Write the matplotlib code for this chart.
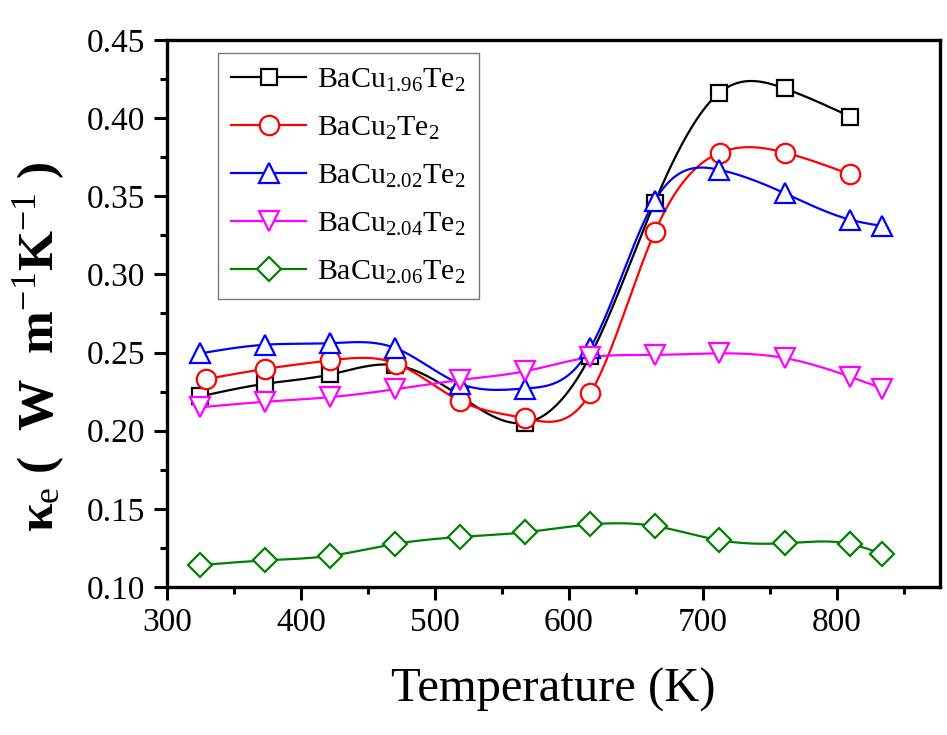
import numpy as np
import matplotlib
matplotlib.use("Agg")
import matplotlib.pyplot as plt
from matplotlib.ticker import MultipleLocator, FormatStrFormatter

plt.rcParams['font.family'] = ['Liberation Serif', 'DejaVu Serif']
plt.rcParams['mathtext.fontset'] = 'custom'
plt.rcParams['mathtext.rm'] = 'Liberation Serif'
plt.rcParams['mathtext.it'] = 'Liberation Serif:italic'
plt.rcParams['mathtext.bf'] = 'Liberation Serif:bold'

# ---- data ----
T_all = [325, 373, 422, 470, 519, 567, 616, 664, 712, 761, 810, 834]
T_red = [329, 373, 422, 471, 519, 567, 616, 664, 713, 761, 810]

k_196 = [0.222, 0.230, 0.236, 0.242, 0.222, 0.205, 0.248, 0.346, 0.416, 0.419, 0.401]
k_200 = [0.233, 0.2395, 0.245, 0.243, 0.219, 0.208, 0.224, 0.327, 0.378, 0.378, 0.364]
k_202 = [0.2495, 0.255, 0.256, 0.253, 0.230, 0.227, 0.253, 0.347, 0.367, 0.352, 0.335, 0.331]
k_204 = [0.215, 0.2185, 0.2215, 0.2265, 0.2325, 0.238, 0.247, 0.2485, 0.2495, 0.2465, 0.2345, 0.227]
k_206 = [0.114, 0.117, 0.120, 0.1275, 0.132, 0.135, 0.140, 0.139, 0.130, 0.128, 0.1275, 0.121]

labels = [r'BaCu$_{1.96}$Te$_{2}$', r'BaCu$_{2}$Te$_{2}$', r'BaCu$_{2.02}$Te$_{2}$',
          r'BaCu$_{2.04}$Te$_{2}$', r'BaCu$_{2.06}$Te$_{2}$']


def natural_spline(x, y, n=40):
    """Smooth connecting line (natural cubic spline) through the data points."""
    x = np.asarray(x, float)
    y = np.asarray(y, float)
    m = len(x)
    h = np.diff(x)
    A = np.zeros((m, m))
    b = np.zeros(m)
    A[0, 0] = 1
    A[-1, -1] = 1
    for i in range(1, m - 1):
        A[i, i - 1] = h[i - 1]
        A[i, i] = 2 * (h[i - 1] + h[i])
        A[i, i + 1] = h[i]
        b[i] = 3 * ((y[i + 1] - y[i]) / h[i] - (y[i] - y[i - 1]) / h[i - 1])
    c = np.linalg.solve(A, b)
    xs, ys = [], []
    for i in range(m - 1):
        t = np.linspace(0, h[i], n, endpoint=(i == m - 2))
        bi = (y[i + 1] - y[i]) / h[i] - h[i] * (2 * c[i] + c[i + 1]) / 3
        di = (c[i + 1] - c[i]) / (3 * h[i])
        xs.append(x[i] + t)
        ys.append(y[i] + bi * t + c[i] * t ** 2 + di * t ** 3)
    return np.concatenate(xs), np.concatenate(ys)


fig = plt.figure(figsize=(9.47, 7.35), dpi=100)
ax = fig.add_axes([167 / 947, 1 - 587 / 735, (940 - 167) / 947, (587 - 40) / 735])

series = [
    (T_all[:11], k_196, 'black', 's'),
    (T_red, k_200, '#FF0000', 'o'),
    (T_all, k_202, '#0000FF', '^'),
    (T_all, k_204, '#FF00FF', 'v'),
    (T_all, k_206, '#008000', 'D'),
]
msizes = {'s': 12, 'o': 14, '^': 14, 'v': 14, 'D': 12}

for (tx, ky, col, mk), lab in zip(series, labels):
    sx, sy = natural_spline(tx, ky)
    ax.plot(sx, sy, color=col, lw=1.6, zorder=2)
    ax.plot(tx, ky, linestyle='none', marker=mk, ms=msizes[mk], mfc='white',
            mec=col, mew=1.6, zorder=3)
    ax.plot([], [], color=col, lw=1.6, marker=mk, ms=msizes[mk], mfc='white',
            mec=col, mew=1.6, label=lab)

ax.set_xlim(300, 877)
ax.set_ylim(0.10, 0.45)
ax.xaxis.set_major_locator(MultipleLocator(100))
ax.xaxis.set_minor_locator(MultipleLocator(50))
ax.yaxis.set_major_locator(MultipleLocator(0.05))
ax.yaxis.set_minor_locator(MultipleLocator(0.025))
ax.yaxis.set_major_formatter(FormatStrFormatter('%.2f'))

for s in ax.spines.values():
    s.set_linewidth(2.4)
ax.tick_params(which='both', direction='out', width=2.2, top=False, right=False)
ax.tick_params(which='major', length=9.5, labelsize=24)
ax.tick_params(axis='y', which='major', pad=6)
ax.tick_params(axis='x', which='major', pad=5)
ax.tick_params(which='minor', length=5)

ax.set_xlabel('Temperature (K)', fontsize=35, labelpad=22)
ax.set_ylabel(r'$\mathbf{\kappa}_{\mathrm{e}}$ (  W  m$^{-1}$K$^{-1}$ )', fontsize=37,
              fontweight='bold')
ax.yaxis.set_label_coords(-0.13, 0.44)

leg = ax.legend(loc='upper left', bbox_to_anchor=(218 / 947, 1 - 53 / 735),
                bbox_transform=fig.transFigure, fontsize=21.5, frameon=True,
                fancybox=False, edgecolor='#555555', handlelength=2.5,
                handletextpad=0.35, labelspacing=0.7, borderaxespad=0,
                borderpad=0.45)
leg.get_frame().set_linewidth(1.0)

fig.savefig('out.png', dpi=100)
